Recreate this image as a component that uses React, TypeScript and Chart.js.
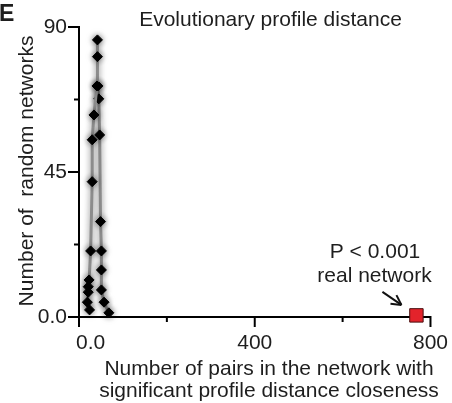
import React, { useEffect, useRef } from 'react';
import { Chart, registerables } from 'chart.js';

Chart.register(...registerables);

// ---- data ----
const yTicks = [0, 45, 90];
const yMinorTicks = [22.5, 67.5];
const xTicks = [0, 400, 800];
const xMinorTicks = [200, 600];
const yTickLabels = ['0.0', '45', '90'];
const xTickLabels = ['    0.0', '400', '800'];

const leftX = [24, 19, 21, 21, 23, 26.5, 30, 30, 34, 41, 42, 42];
const leftY = [2.2, 4.6, 7.7, 9.4, 11.5, 20.5, 42, 55, 62.7, 71.7, 80.8, 86];
const rightX = [68, 57, 51, 51, 51, 49, 47, 45, 43];
const rightY = [1.3, 4.6, 8.4, 14.6, 20.5, 29.6, 56.5, 67.7, 71.7];
const realX = [768];
const realY = [0.5];

const titleText = 'Evolutionary profile distance';
const panelLetter = 'E';
const yTitle = 'Number of  random networks';
const xTitle = ['Number of pairs in the network with', 'significant profile distance closeness'];
const noteLines = ['P < 0.001', 'real network'];

const FONT = '"Liberation Sans", Arial, Helvetica, sans-serif';
const TEXT = '#1e1e1e';

const toPts = (xs: number[], ys: number[]) => xs.map((x, i) => ({ x, y: ys[i] }));

const decor = {
  id: 'decor',
  beforeDatasetDraw(chart: any, args: any) {
    const ctx = chart.ctx;
    ctx.save();
    if (args.index < 2) {
      ctx.shadowColor = 'rgba(0,0,0,0.55)';
      ctx.shadowBlur = 6;
    }
  },
  afterDatasetDraw(chart: any) {
    chart.ctx.restore();
  },
  afterDraw(chart: any) {
    const ctx: CanvasRenderingContext2D = chart.ctx;
    const xs = chart.scales.x;
    const ys = chart.scales.y;
    const { left, bottom } = chart.chartArea;
    ctx.save();
    ctx.strokeStyle = '#000';
    ctx.lineWidth = 2;
    const seg = (x1: number, y1: number, x2: number, y2: number) => {
      ctx.beginPath();
      ctx.moveTo(x1, y1);
      ctx.lineTo(x2, y2);
      ctx.stroke();
    };
    for (const v of yTicks) {
      const p = ys.getPixelForValue(v);
      seg(left - 11, p, left + 1, p);
    }
    for (const v of yMinorTicks) {
      const p = ys.getPixelForValue(v);
      seg(left - 5, p, left, p);
    }
    for (const v of xTicks) {
      const p = xs.getPixelForValue(v);
      seg(p, bottom - 1, p, bottom + 10);
    }
    for (const v of xMinorTicks) {
      const p = xs.getPixelForValue(v);
      seg(p, bottom, p, bottom + 5);
    }

    // texts
    ctx.fillStyle = TEXT;
    ctx.textBaseline = 'alphabetic';
    ctx.font = `bold 23px ${FONT}`;
    ctx.textAlign = 'left';
    ctx.fillText(panelLetter, -1, 21);

    ctx.font = `21px ${FONT}`;
    ctx.textAlign = 'center';
    ctx.fillText(titleText, 270.5, 26);
    ctx.fillText(xTitle[0], 269, 375);
    ctx.fillText(xTitle[1], 269, 397);
    ctx.fillText(noteLines[0], 375, 258);
    ctx.fillText(noteLines[1], 374.5, 282);

    ctx.save();
    ctx.translate(33, 171);
    ctx.rotate(-Math.PI / 2);
    ctx.fillText(yTitle, 0, 0);
    ctx.restore();

    // arrow toward real network point
    const meta = chart.getDatasetMeta(2);
    const pt = meta.data[0];
    if (pt) {
      const tx = pt.x - 15, ty = pt.y - 10.5;
      const sx = pt.x - 34, sy = pt.y - 23.5;
      ctx.strokeStyle = '#111';
      ctx.lineWidth = 2;
      seg(sx, sy, tx, ty);
      const ang = Math.atan2(ty - sy, tx - sx);
      const hl = 11;
      seg(tx, ty, tx - hl * Math.cos(ang - 0.5), ty - hl * Math.sin(ang - 0.5));
      seg(tx, ty, tx - hl * Math.cos(ang + 0.5), ty - hl * Math.sin(ang + 0.5));
    }
    ctx.restore();
  },
};

export default function App() {
  const ref = useRef<HTMLCanvasElement | null>(null);
  useEffect(() => {
    if (!ref.current) return;
    const lineDs = (xsArr: number[], ysArr: number[]) => ({
      data: toPts(xsArr, ysArr),
      showLine: true,
      borderColor: '#8c8c8c',
      borderWidth: 3,
      tension: 0,
      pointStyle: 'rectRot',
      pointRadius: 5,
      pointBackgroundColor: '#000',
      pointBorderColor: '#000',
      pointBorderWidth: 1,
      clip: false,
    });
    const chart = new Chart(ref.current, {
      type: 'scatter',
      data: {
        datasets: [
          lineDs(leftX, leftY) as any,
          lineDs(rightX, rightY) as any,
          {
            data: toPts(realX, realY),
            showLine: false,
            pointStyle: 'rect',
            pointRadius: 9.5,
            pointBackgroundColor: '#e3232b',
            pointBorderColor: '#4a1010',
            pointBorderWidth: 1,
            clip: false,
          } as any,
        ],
      },
      options: {
        animation: false,
        responsive: false,
        maintainAspectRatio: false,
        events: [],
        layout: { padding: { top: 27, right: 20, left: 0, bottom: 0 } },
        plugins: { legend: { display: false }, tooltip: { enabled: false }, title: { display: false } },
        scales: {
          x: {
            type: 'linear',
            min: 0,
            max: 800,
            afterBuildTicks: (s: any) => {
              s.ticks = xTicks.map((v) => ({ value: v }));
            },
            afterFit: (s: any) => {
              s.height = 86;
            },
            ticks: {
              autoSkip: false,
              maxRotation: 0,
              padding: 4,
              color: TEXT,
              font: { family: FONT, size: 21 },
              callback: (v: any) => xTickLabels[xTicks.indexOf(Number(v))] ?? '',
            },
            grid: { display: false, drawTicks: true, tickLength: 10 },
            border: { display: true, color: '#000', width: 2 },
          },
          y: {
            type: 'linear',
            min: 0,
            max: 90,
            afterBuildTicks: (s: any) => {
              s.ticks = yTicks.map((v) => ({ value: v }));
            },
            afterFit: (s: any) => {
              s.width = 79;
            },
            ticks: {
              autoSkip: false,
              padding: 2,
              color: TEXT,
              font: { family: FONT, size: 21 },
              callback: (v: any) => yTickLabels[yTicks.indexOf(Number(v))] ?? '',
            },
            grid: { display: false, drawTicks: true, tickLength: 10 },
            border: { display: true, color: '#000', width: 2 },
          },
        },
      },
      plugins: [decor as any],
    });
    return () => chart.destroy();
  }, []);
  return (
    <div style={{ position: 'fixed', left: 0, top: 0, width: 452, height: 403, background: '#fff' }}>
      <canvas ref={ref} width={452} height={403} style={{ display: 'block' }} />
    </div>
  );
}
